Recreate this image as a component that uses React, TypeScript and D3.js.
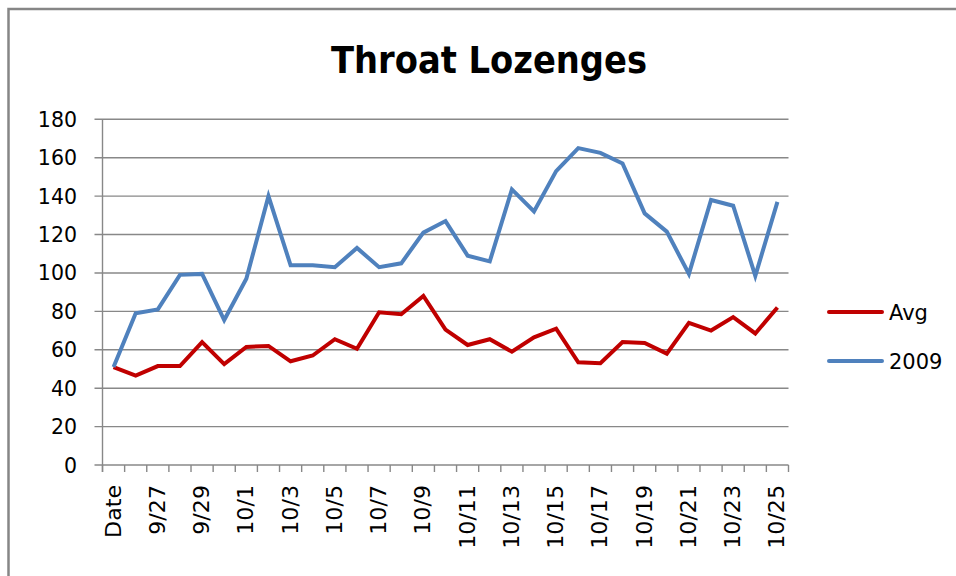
import React, { useEffect, useRef } from 'react';
import * as d3 from 'd3';

const width = 956;
const height = 576;

const dates = ['Date', '9/26', '9/27', '9/28', '9/29', '9/30',
  '10/1', '10/2', '10/3', '10/4', '10/5', '10/6', '10/7', '10/8', '10/9', '10/10',
  '10/11', '10/12', '10/13', '10/14', '10/15', '10/16', '10/17', '10/18', '10/19', '10/20',
  '10/21', '10/22', '10/23', '10/24', '10/25'];

const avg = [51, 46.5, 51.5, 51.5, 64, 52.5, 61.5, 62, 54, 57, 65.5, 60.5, 79.5, 78.5, 88, 70.5,
  62.5, 65.5, 59, 66.5, 71, 53.5, 53, 64, 63.5, 58, 74, 70, 77, 68.5, 82];

const y2009 = [51, 79, 81, 99, 99.5, 75.5, 97, 140, 104, 104, 103, 113, 103, 105, 121, 127,
  109, 106, 143.5, 132, 153, 165, 162.5, 157, 131, 121.5, 99.5, 138, 135, 98.5, 137];

const yTicks = [0, 20, 40, 60, 80, 100, 120, 140, 160, 180];

const series = [
  { name: 'Avg', values: avg, color: '#C00000' },
  { name: '2009', values: y2009, color: '#4F81BD' },
];

const GRID = '#888888';
const FONT = '"DejaVu Sans", sans-serif';

const App = () => {
  const ref = useRef<SVGSVGElement | null>(null);

  useEffect(() => {
    const svg = d3.select(ref.current);
    svg.selectAll('*').remove();

    const left = 102.5, right = 788.5, top = 119.3, bottom = 465;

    const x = d3.scaleBand<string>().domain(dates).range([left, right]);
    const y = d3.scaleLinear().domain([0, 180]).range([bottom, top]);

    // chart border (only top and left edges are in frame)
    svg.append('path')
      .attr('d', `M8.5,${height + 5} L8.5,9 L${width + 5},9`)
      .attr('fill', 'none')
      .attr('stroke', '#868686')
      .attr('stroke-width', 2.5);

    // title
    svg.append('text')
      .attr('x', 489)
      .attr('y', 73)
      .attr('text-anchor', 'middle')
      .attr('font-family', '"DejaVu Sans Condensed", "DejaVu Sans", sans-serif')
      .attr('font-weight', 'bold')
      .attr('font-size', 38)
      .attr('textLength', 316)
      .attr('lengthAdjust', 'spacingAndGlyphs')
      .text('Throat Lozenges');

    // gridlines + y ticks
    const g = svg.append('g');
    g.selectAll('line.grid')
      .data(yTicks)
      .enter()
      .append('line')
      .attr('x1', left - 8)
      .attr('x2', right)
      .attr('y1', d => y(d))
      .attr('y2', d => y(d))
      .attr('stroke', GRID)
      .attr('stroke-width', 1.4);

    g.selectAll('text.ylab')
      .data(yTicks)
      .enter()
      .append('text')
      .attr('x', 77)
      .attr('y', d => y(d) + 7.5)
      .attr('text-anchor', 'end')
      .attr('font-family', FONT)
      .attr('font-size', 20.5)
      .attr('fill', '#000')
      .text(d => d);

    // y axis line
    g.append('line')
      .attr('x1', left).attr('x2', left)
      .attr('y1', top).attr('y2', bottom + 7)
      .attr('stroke', GRID)
      .attr('stroke-width', 1.4);

    // x ticks at category boundaries
    const bounds = d3.range(dates.length + 1).map(i => left + i * x.step());
    g.selectAll('line.xtick')
      .data(bounds)
      .enter()
      .append('line')
      .attr('x1', d => d).attr('x2', d => d)
      .attr('y1', bottom).attr('y2', bottom + 7)
      .attr('stroke', GRID)
      .attr('stroke-width', 1.4);

    // x labels, every other category, rotated
    g.selectAll('text.xlab')
      .data(dates.filter((_, i) => i % 2 === 0))
      .enter()
      .append('text')
      .attr('transform', d => `translate(${x(d)! + x.bandwidth() / 2 + 7},485) rotate(-90) scale(1.08,1)`)
      .attr('text-anchor', 'end')
      .attr('font-family', FONT)
      .attr('font-size', 20.5)
      .attr('fill', '#000')
      .text(d => d);

    // lines
    const line = d3.line<number>()
      .x((_, i) => x(dates[i])! + x.bandwidth() / 2)
      .y(d => y(d));

    series.forEach(s => {
      svg.append('path')
        .datum(s.values)
        .attr('d', line)
        .attr('fill', 'none')
        .attr('stroke', s.color)
        .attr('stroke-width', 4)
        .attr('stroke-linejoin', 'miter');
    });

    // legend
    const leg = svg.append('g');
    series.forEach((s, i) => {
      const ly = 312 + i * 49;
      leg.append('line')
        .attr('x1', 829).attr('x2', 882)
        .attr('y1', ly).attr('y2', ly)
        .attr('stroke', s.color)
        .attr('stroke-width', 4)
        .attr('stroke-linecap', 'round');
      leg.append('text')
        .attr('x', 889)
        .attr('y', ly + 8)
        .attr('font-family', FONT)
        .attr('font-size', 21)
        .attr('fill', '#000')
        .text(s.name);
    });
  }, []);

  return (
    <svg
      ref={ref}
      width={width}
      height={height}
      style={{ position: 'absolute', left: 0, top: 0, background: '#fff' }}
    />
  );
};

export default App;
